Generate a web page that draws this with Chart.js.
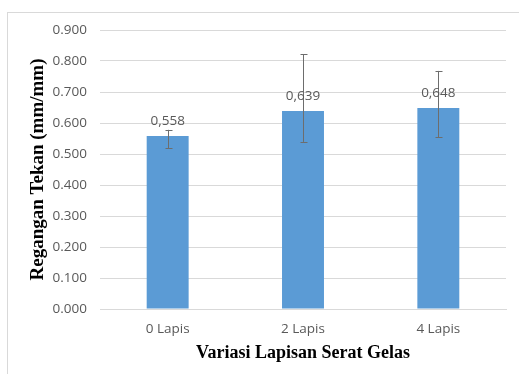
<!DOCTYPE html>
<html>
<head>
<meta charset="utf-8">
<script src="https://cdn.jsdelivr.net/npm/chart.js@4.4.0/dist/chart.umd.min.js"></script>
<style>
  html, body { margin: 0; padding: 0; background: #fff; }
  #wrap { position: relative; width: 519px; height: 374px; overflow: hidden; }
  #frame { position: absolute; left: 7px; top: 12px; width: 600px; height: 400px;
           border-left: 1px solid #d9d9d9; border-top: 1px solid #d9d9d9; }
  canvas { position: absolute; left: 0; top: 0; }
</style>
</head>
<body>
<div id="wrap">
  <div id="frame"></div>
  <canvas id="chart" width="519" height="374"></canvas>
</div>
<script>
const categories = ['0 Lapis', '2 Lapis', '4 Lapis'];
const strain = [0.558, 0.639, 0.648];
const errPlus = [0.020, 0.183, 0.120];
const errMinus = [0.040, 0.100, 0.094];
const yTicks = [0, 0.1, 0.2, 0.3, 0.4, 0.5, 0.6, 0.7, 0.8, 0.9];

const gray = '#595959';
const tickFont = { family: 'Open Sans', size: 13.5 };

// error bars + value labels on top of the bars
const barExtras = {
  id: 'barExtras',
  afterDatasetsDraw(chart) {
    const ctx = chart.ctx;
    const y = chart.scales.y;
    const meta = chart.getDatasetMeta(0);
    ctx.save();
    meta.data.forEach(function(bar, i) {
      const v = strain[i];
      const top = y.getPixelForValue(v + errPlus[i]);
      const bot = y.getPixelForValue(v - errMinus[i]);
      const x = Math.round(bar.x) + 0.5;
      ctx.strokeStyle = '#6d6d6d';
      ctx.lineWidth = 1;
      ctx.beginPath();
      ctx.moveTo(x, top); ctx.lineTo(x, bot);
      ctx.moveTo(x - 3, Math.round(top) + 0.5); ctx.lineTo(x + 4, Math.round(top) + 0.5);
      ctx.moveTo(x - 3, Math.round(bot) + 0.5); ctx.lineTo(x + 4, Math.round(bot) + 0.5);
      ctx.stroke();

      ctx.fillStyle = gray;
      ctx.font = '13.5px "Open Sans"';
      ctx.textAlign = 'center';
      ctx.textBaseline = 'middle';
      ctx.fillText(v.toFixed(3).replace('.', ','), bar.x, bar.y - 15);
    });
    ctx.restore();
  }
};

new Chart(document.getElementById('chart').getContext('2d'), {
  type: 'bar',
  data: {
    labels: categories,
    datasets: [{
      data: strain,
      backgroundColor: '#5b9bd5',
      borderWidth: 0,
      barPercentage: 0.31,
      categoryPercentage: 1
    }]
  },
  options: {
    responsive: false,
    animation: false,
    layout: { padding: { top: 30, right: 13, left: 0, bottom: 0 } },
    plugins: { legend: { display: false }, tooltip: { enabled: false } },
    scales: {
      x: {
        grid: { display: false, drawTicks: false },
        border: { display: true, color: '#d9d9d9' },
        ticks: { color: gray, font: tickFont, padding: 12 },
        title: { display: true, text: 'Variasi Lapisan Serat Gelas', color: '#000',
                 font: { family: 'Liberation Serif', size: 18, weight: 'bold' },
                 padding: { top: 4, bottom: 10 } },
        afterFit: function(s) { s.height = 65; }
      },
      y: {
        min: 0,
        max: 0.9,
        afterBuildTicks: function(s) { s.ticks = yTicks.map(v => ({ value: v })); },
        ticks: { color: gray, font: tickFont, padding: 13,
                 callback: v => Number(v).toFixed(3) },
        grid: { color: '#d9d9d9', drawTicks: false },
        border: { display: false },
        title: { display: true, text: 'Regangan Tekan (mm/mm)', color: '#000',
                 font: { family: 'Liberation Serif', size: 19, weight: 'bold' },
                 padding: { top: 27, bottom: 0 } },
        afterFit: function(s) { s.width = 100; }
      }
    }
  },
  plugins: [barExtras]
});
</script>
</body>
</html>
